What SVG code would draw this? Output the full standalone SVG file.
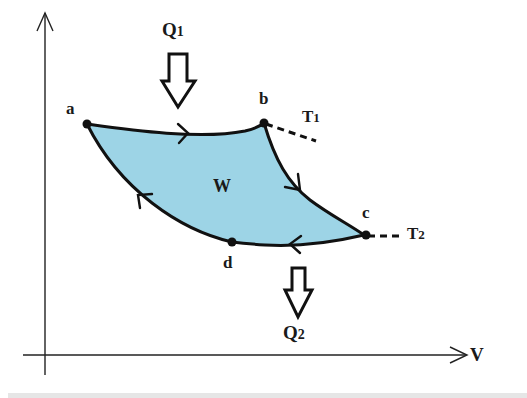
<svg xmlns="http://www.w3.org/2000/svg" width="527" height="398" viewBox="0 0 527 398">
<style>
.ax{stroke:#222;stroke-width:1.4;fill:none}
.crv{stroke:#111;stroke-width:3;fill:none;stroke-linecap:round}
.chev{stroke:#111;stroke-width:2.4;fill:none;stroke-linecap:round;stroke-linejoin:miter}
.dash{stroke:#111;stroke-width:3;stroke-dasharray:7,5;fill:none}
.lbl{font-family:"Liberation Serif","Times New Roman",serif;font-weight:bold;fill:#1a1a1a;font-size:17px}
.big{stroke:#111;stroke-width:3;fill:#fff;stroke-linejoin:miter}
.dot{fill:#111}
</style>
<rect width="527" height="398" fill="#fff"/>
<rect x="8" y="393" width="519" height="5" fill="#e6e6e6"/>
<g id="axes">
<line class="ax" x1="45" y1="13" x2="45" y2="375"/>
<polyline class="ax" points="37,31 45,13 53,31"/>
<line class="ax" x1="23" y1="355" x2="466" y2="355"/>
<polyline class="ax" points="450,347 467,355 450,363"/>
<text class="lbl" x="470" y="361" style="font-size:19px">V</text>
</g>
<g id="cycle">
<path fill="#9dd4e6" stroke="none" d="M87,124 C130,130 200,140 245,131 Q258,128 264,123 C275,160 288,183 310,200 C330,215 350,225 364,235 C330,243 300,247 265,245 C250,244 240,243 232,242 C180,230 120,190 87,124 Z"/>
</g>
<g id="connectors">
<path id="ab" class="crv" d="M87,124 C130,130 200,140 245,131 Q258,128 264,123"/>
<path id="bc" class="crv" d="M264,123 C275,160 288,183 310,200 C330,215 350,225 364,235"/>
<path id="cd" class="crv" d="M364,235 C330,243 300,247 265,245 C250,244 240,243 232,242"/>
<path id="da" class="crv" d="M232,242 C180,230 120,190 87,124"/>
<polyline class="chev" points="178,124 188,133 179,143"/>
<polyline class="chev" points="298,174 300,190 285,187"/>
<polyline class="chev" points="301,236 290,244 300,253"/>
<polyline class="chev" points="140,208 138,195 152,194"/>
<line class="dash" x1="266" y1="124" x2="316" y2="141"/>
<line class="dash" x1="368" y1="236" x2="404" y2="236"/>
</g>
<g id="node-a"><circle class="dot" cx="87" cy="124" r="4.5"/><text class="lbl" x="66" y="114">a</text></g>
<g id="node-b"><circle class="dot" cx="264" cy="123" r="4.5"/><text class="lbl" x="259" y="104">b</text></g>
<g id="node-c"><circle class="dot" cx="366" cy="235" r="4.5"/><text class="lbl" x="362" y="218">c</text></g>
<g id="node-d"><circle class="dot" cx="232" cy="242" r="4.5"/><text class="lbl" x="223" y="268">d</text></g>
<g id="label-T1"><text class="lbl" x="302" y="122">T<tspan style="font-size:13px">1</tspan></text></g>
<g id="label-T2"><text class="lbl" x="407" y="239">T<tspan style="font-size:13px">2</tspan></text></g>
<g id="label-W"><text class="lbl" x="213" y="192" style="font-size:18px">W</text></g>
<g id="Q1">
<polygon class="big" points="169,54 187,54 187,81 195,81 178,107 162,81 169,81"/>
<text class="lbl" x="162" y="36" style="font-size:19px">Q<tspan style="font-size:14px">1</tspan></text>
</g>
<g id="Q2">
<polygon class="big" points="292,268 305,268 305,290 312,290 298,317 285,290 292,290"/>
<text class="lbl" x="283" y="339" style="font-size:19px">Q<tspan style="font-size:14px">2</tspan></text>
</g>
</svg>
